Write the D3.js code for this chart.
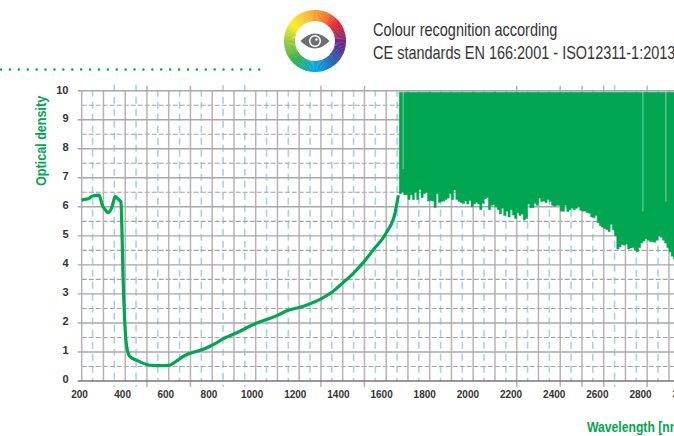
<!DOCTYPE html>
<html>
<head>
<meta charset="utf-8">
<script src="https://cdn.jsdelivr.net/npm/d3@7"></script>
<style>
  html, body { margin: 0; padding: 0; background: #fff; overflow: hidden; }
  svg { display: block; }
  text { font-family: "Liberation Sans", sans-serif; }
</style>
</head>
<body>
<script>
// curve below the noisy band
var curveX = [200,210,230,250,280,295,310,321,337,345,354,370,380,385,390,397,403,411,421,457,503,549,603,634,672,718,765,803,857,918,980,1000,1050,1100,1143,1200,1250,1300,1350,1400,1450,1500,1542,1600,1641,1656];
var curveY = [6.22,6.25,6.28,6.37,6.4,6.05,5.88,5.8,5.95,6.15,6.35,6.25,6.18,5.2,3.6,2.2,1.43,1.02,0.85,0.7,0.56,0.53,0.54,0.68,0.87,1.0,1.11,1.25,1.48,1.68,1.91,1.98,2.12,2.26,2.42,2.53,2.66,2.83,3.06,3.38,3.72,4.13,4.53,5.1,5.8,6.4];

// lower edge of the noisy band, one value every 10 nm from 1660
var bandStart = 1660, bandStep = 10, bandTop = 9.95;
var bandLow = [
  6.45,6.5,6.42,6.42,6.25,6.42,6.25,6.5,6.25,6.6,
  6.32,6.45,6.5,6.2,6.22,6.2,5.98,6.45,6.15,6.18,
  6.2,6.25,6.3,6.45,6.25,6.58,6.25,6.18,6.15,6.12,
  6.2,6.1,6.22,6.0,6.1,6.15,6.1,5.9,6.12,6.28,
  6.32,5.9,6.05,6.08,6.0,5.9,5.75,5.95,5.7,5.85,
  5.65,5.9,5.72,5.6,5.8,5.7,5.75,5.55,5.6,6.1,
  5.97,5.98,6.12,6.05,6.3,6.18,6.2,6.15,6.25,6.18,
  6.05,6.02,6.05,6.05,5.85,5.85,6.05,5.84,5.9,5.95,
  5.9,5.95,6.0,5.88,5.85,5.85,5.8,5.78,5.65,5.62,
  5.7,5.45,5.35,5.3,5.25,5.22,5.15,5.4,5.2,5.0,
  4.55,4.62,4.7,4.68,4.72,4.55,4.58,4.6,4.5,4.45,
  4.6,4.75,4.82,4.9,4.85,4.8,4.8,4.78,4.85,5.0,
  4.95,4.85,4.75,4.6,4.45,4.3,4.2,4.2,4.15,4.2
];
var slitX = [1678, 2780, 2886];
var slitLow = [7.3, 5.84, 6.18];

var xLabels = [200,400,600,800,1000,1200,1400,1600,1800,2000,2200,2400,2600,2800,3000];
var yLabels = [0,1,2,3,4,5,6,7,8,9,10];
var xLongTicks = [500,700,1300,1500,2200,2400,2500,2600,2800];
var blueLongTicks = [350,450,850,950,2650];

var headerLines = ["Colour recognition according", "CE standards EN 166:2001 - ISO12311-1:2013"];

var green = "#00a651";
var width = 674, height = 436;

var svg = d3.select("body").append("svg")
  .attr("width", width)
  .attr("height", height);

var xScale = d3.scaleLinear().domain([200, 3000]).range([81.7, 690.7]);
var yScale = d3.scaleLinear().domain([0, 10]).range([381, 90.7]);
// the printed labels sit slightly off their grid lines
var xLabelScale = d3.scaleLinear().domain([200, 2800]).range([79, 640]);
var yLabelScale = d3.scaleLinear().domain([0, 10]).range([378.5, 89.5]);

var x100 = d3.range(200, 3001, 100);
var x50 = d3.range(250, 3001, 100);
var yHalf = d3.range(0.5, 10, 1);

// grid
var grid = svg.append("g");

grid.selectAll(".blue").data(x50).enter().append("line")
  .attr("x1", function(d) { return xScale(d); })
  .attr("x2", function(d) { return xScale(d); })
  .attr("y1", function(d) { return blueLongTicks.indexOf(d) >= 0 ? yScale(10) - 6 : yScale(10) - 1; })
  .attr("y2", function(d) { return blueLongTicks.indexOf(d) >= 0 ? yScale(0) + 6 : yScale(0) + 1; })
  .attr("stroke", "#a3d2f0")
  .attr("stroke-width", 1.6)
  .attr("stroke-dasharray", "7,5");

grid.selectAll(".half").data(yHalf).enter().append("line")
  .attr("x1", xScale(200))
  .attr("x2", width)
  .attr("y1", function(d) { return yScale(d); })
  .attr("y2", function(d) { return yScale(d); })
  .attr("stroke", "#a3a3a3")
  .attr("stroke-width", 1.1)
  .attr("stroke-dasharray", "5,2");

grid.selectAll(".vert").data(x100).enter().append("line")
  .attr("x1", function(d) { return xScale(d); })
  .attr("x2", function(d) { return xScale(d); })
  .attr("y1", function(d) { return xLongTicks.indexOf(d) >= 0 ? yScale(10) - 5 : yScale(10); })
  .attr("y2", function(d) { return xLongTicks.indexOf(d) >= 0 ? yScale(0) + 6 : yScale(0); })
  .attr("stroke", "#b4b4b8")
  .attr("stroke-width", 1.5);

grid.selectAll(".horiz").data(yLabels).enter().append("line")
  .attr("x1", xScale(200) - 4)
  .attr("x2", width)
  .attr("y1", function(d) { return yScale(d); })
  .attr("y2", function(d) { return yScale(d); })
  .attr("stroke", function(d) { return d == 0 ? "#77777a" : "#a8a8aa"; })
  .attr("stroke-width", 1.4);

// band
var band = d3.area()
  .x(function(d, i) { return xScale(bandStart + i * bandStep); })
  .y0(yScale(bandTop))
  .y1(function(d) { return yScale(d); })
  .curve(d3.curveStepAfter);

svg.append("path")
  .datum(bandLow)
  .attr("d", band)
  .attr("fill", green)
  .attr("stroke", green)
  .attr("stroke-width", 0.5);

svg.selectAll(".slit").data(slitX).enter().append("line")
  .attr("x1", function(d) { return xScale(d); })
  .attr("x2", function(d) { return xScale(d); })
  .attr("y1", yScale(bandTop))
  .attr("y2", function(d, i) { return yScale(slitLow[i]); })
  .attr("stroke", "#fff")
  .attr("stroke-opacity", 0.5)
  .attr("stroke-width", 1);

// curve
var line = d3.line()
  .x(function(d, i) { return xScale(curveX[i]); })
  .y(function(d) { return yScale(d); })
  .curve(d3.curveMonotoneX);

svg.append("path")
  .datum(curveY)
  .attr("d", line)
  .attr("fill", "none")
  .attr("stroke", green)
  .attr("stroke-width", 3.2)
  .attr("stroke-linejoin", "round");

// axes, labels only, the ticks are in the grid
var xAxis = d3.axisBottom(xLabelScale).tickValues(xLabels).tickSize(0).tickPadding(0).tickFormat(d3.format("d"));
var yAxis = d3.axisLeft(yLabelScale).tickValues(yLabels).tickSize(0).tickPadding(0).tickFormat(d3.format("d"));

var g_xAxis = svg.append("g").attr("transform", "translate(0,391)").call(xAxis);
var g_yAxis = svg.append("g").attr("transform", "translate(68.5,0)").call(yAxis);

g_xAxis.select(".domain").remove();
g_yAxis.select(".domain").remove();
g_xAxis.selectAll("text")
  .style("font-family", '"Liberation Sans", sans-serif')
  .style("font-size", "10px")
  .style("font-weight", "bold")
  .attr("fill", "#333");
g_yAxis.selectAll("text")
  .style("font-family", '"Liberation Sans", sans-serif')
  .style("font-size", "11px")
  .style("font-weight", "bold")
  .attr("fill", "#333");

// no condensed face is installed, so the titles are squeezed by hand
svg.append("text")
  .attr("transform", "translate(46,186) rotate(-90) scale(0.9,1)")
  .attr("fill", green)
  .attr("font-size", 14)
  .attr("font-weight", "bold")
  .text("Optical density");

svg.append("text")
  .attr("transform", "translate(587,432) scale(0.84,1)")
  .attr("fill", green)
  .attr("font-size", 14.5)
  .attr("font-weight", "bold")
  .text("Wavelength [nm]");

// header
svg.selectAll(".head").data(headerLines).enter().append("text")
  .attr("transform", function(d, i) { return "translate(373," + (36 + i * 22.5) + ") scale(0.805,1)"; })
  .attr("fill", "#333")
  .attr("font-size", 18)
  .text(function(d) { return d; });

// dotted rule
svg.append("line")
  .attr("x1", 1)
  .attr("x2", 261)
  .attr("y1", 69.5)
  .attr("y2", 69.5)
  .attr("stroke", green)
  .attr("stroke-width", 2.4)
  .attr("stroke-linecap", "round")
  .attr("stroke-dasharray", "0.1,8.8");

// colour wheel logo
var logo = svg.append("g").attr("transform", "translate(315,41)");
var wheelColor = d3.scaleLinear()
  .domain([0, 25, 50, 100, 135, 180, 225, 270, 305, 340, 360])
  .range(["#f7a02c", "#f0742c", "#e8252f", "#5a2a8c", "#2a5fae", "#00a9e6", "#2fb04c", "#9ccb3b", "#fcee21", "#fbc034", "#f7a02c"]);
var wheelArc = d3.arc().innerRadius(20).outerRadius(31);
var angles = d3.range(0, 360, 3);
logo.selectAll("path.seg").data(angles).enter().append("path")
  .attr("class", "seg")
  .attr("d", function(d) {
    return wheelArc({ startAngle: d * Math.PI / 180, endAngle: (d + 3.6) * Math.PI / 180 });
  })
  .attr("fill", function(d) { return wheelColor(d + 1.5); });

logo.append("path")
  .attr("d", "M-14.5,0 Q0,-15 14.5,0 Q0,15 -14.5,0 Z")
  .attr("fill", "#6d6e71");
logo.append("circle").attr("r", 6).attr("fill", "#fff");
logo.append("circle").attr("r", 4.5).attr("fill", "#6d6e71");
logo.append("circle").attr("cx", 1.5).attr("cy", -1.5).attr("r", 1.2).attr("fill", "#fff");
</script>
</body>
</html>
